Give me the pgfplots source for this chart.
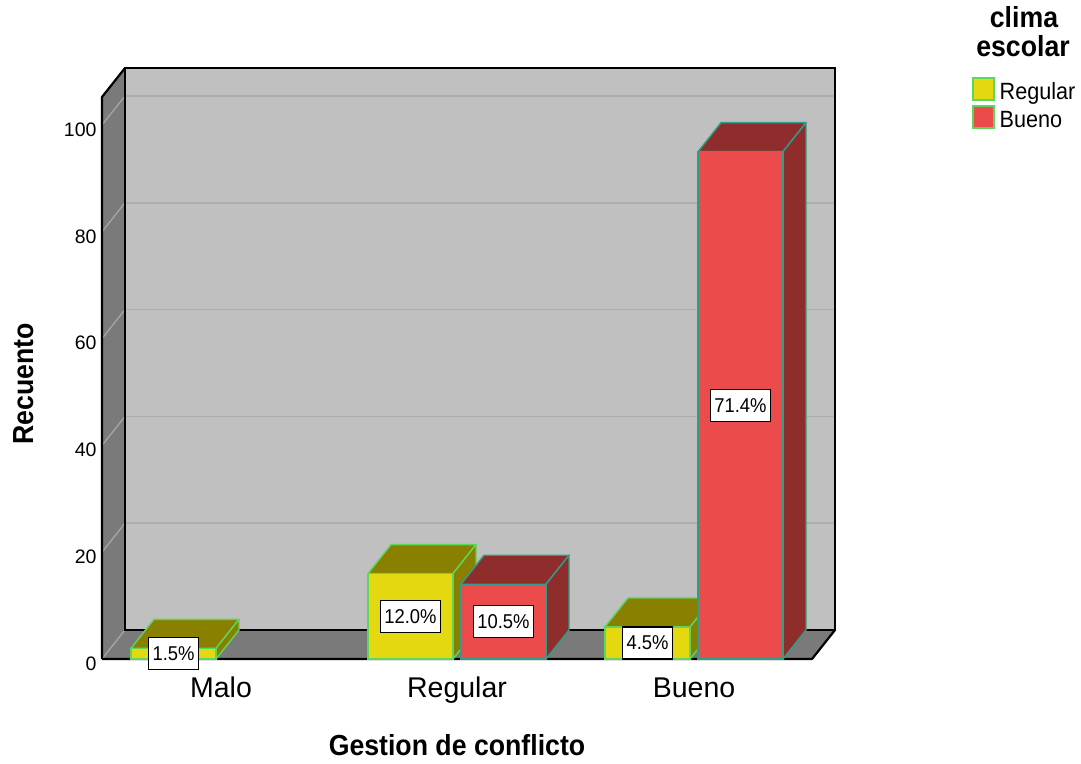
\documentclass[border=0pt]{standalone}
\usepackage{pgfplots}
\pgfplotsset{compat=1.18}
\usepackage{fontspec}
\setmainfont{Liberation Sans}
\newfontfamily\nf{Liberation Sans}[FakeStretch=0.92]

\definecolor{wallback}{HTML}{C0C0C0}
\definecolor{wallside}{HTML}{7A7A7A}
\definecolor{gridback}{HTML}{AEAEAE}
\definecolor{gridside}{HTML}{A6A6A6}
\definecolor{yfront}{HTML}{E4D810}
\definecolor{ydark}{HTML}{8A8000}
\definecolor{yedge}{HTML}{5CD65C}
\definecolor{rfront}{HTML}{EC4B4B}
\definecolor{rdark}{HTML}{8F2D2D}
\definecolor{redge}{HTML}{2F9E88}

\newcommand\dX{23}
\newcommand\dY{5.43}

\tikzset{lbl/.style={draw=black, line width=1.5pt, fill=white,
  font=\nf\fontsize{20}{22}\selectfont, inner xsep=4pt, inner ysep=0pt,
  text height=14.5pt, text depth=0.5pt, minimum height=32pt}}

% #1 left x of front face, #2 count, #3 front colour, #4 dark colour, #5 edge colour, #6 label
\newcommand\barcube[6]{%
 \pgfmathsetmacro\xa{#1}%
 \pgfmathsetmacro\xb{#1+85}%
 \pgfmathsetmacro\xc{#1+\dX}%
 \pgfmathsetmacro\xd{#1+85+\dX}%
 \pgfmathsetmacro\vt{#2+\dY}%
 \pgfmathsetmacro\xm{#1+42.5}%
 \pgfmathsetmacro\vm{#2/2}%
 \edef\doit{%
  \noexpand\addplot[forget plot,fill=#4,draw=#5,line width=1.4pt,line join=round] coordinates {(\xa,#2) (\xc,\vt) (\xd,\vt) (\xb,#2)} -- cycle;
  \noexpand\addplot[forget plot,fill=#4,draw=#5,line width=1.4pt,line join=round] coordinates {(\xb,0) (\xd,\dY) (\xd,\vt) (\xb,#2)} -- cycle;
  \noexpand\addplot[forget plot,fill=#3,draw=#5,line width=1.4pt] coordinates {(\xa,0) (\xb,0) (\xb,#2) (\xa,#2)} -- cycle;
  \noexpand\node[lbl] at (axis cs:\xm,\vm) {#6};
 }\doit}

\begin{document}
\begin{tikzpicture}
\path[use as bounding box] (0,0) rectangle (1081pt,763pt);
\begin{axis}[
 at={(102pt,104pt)}, anchor=south west,
 x=1pt, y=5.34pt, xmin=102, xmax=835, ymin=0, ymax=110.67,
 axis x line*=bottom, axis y line*=left,
 axis line style={draw=none},
 clip=false,
 major tick length=0pt,
 ytick={0,20,40,60,80,100},
 xtick={221,457,694}, xticklabels={Malo,Regular,Bueno},
 /pgf/number format/assume math mode=true,
 yticklabel style={font=\fontsize{19.5}{21}\selectfont, anchor=east, xshift=-2pt, yshift=-4.5pt},
 xticklabel style={font=\fontsize{28.5}{30}\selectfont, anchor=base, yshift=-38pt},
 xlabel={Gestion de conflicto}, ylabel={Recuento},
 xlabel style={font=\nf\bfseries\fontsize{29}{31}\selectfont, at={(axis description cs:0.4843,-0.1641)}, anchor=base},
 ylabel style={font=\nf\bfseries\fontsize{29}{31}\selectfont, at={(axis description cs:-0.0941,0.4653)}, anchor=base},
 legend style={at={(axis description cs:1.1869,0.9844)}, anchor=north west, draw=none, fill=none,
   inner sep=0pt, font=\nf\fontsize{23.5}{25}\selectfont, row sep=0.3pt,
   nodes={inner sep=1pt, text height=17pt, text depth=5pt},
   /tikz/every odd column/.append style={column sep=4pt}},
 legend cell align=left,
 legend image code/.code={\draw[#1, line width=1.5pt] (0pt,-7pt) rectangle (21pt,15pt);},
]
\addlegendimage{fill=yfront, draw=yedge}
\addlegendentry{Regular}
\addlegendimage{fill=rfront, draw=yedge}
\addlegendentry{Bueno}

% walls
\addplot[forget plot, fill=wallback, draw=none] coordinates {(125,5.43) (835,5.43) (835,110.67) (125,110.67)} -- cycle;
\addplot[forget plot, fill=wallside, draw=none] coordinates {(102,0) (125,5.43) (125,110.67) (102,105.24)} -- cycle;
\addplot[forget plot, fill=wallside, draw=none] coordinates {(102,0) (812,0) (835,5.43) (125,5.43)} -- cycle;
% grid lines on back wall
\addplot[forget plot, gridback, line width=1.5pt] coordinates {(125,25.43) (835,25.43)};
\addplot[forget plot, gridback, line width=1.5pt] coordinates {(125,45.43) (835,45.43)};
\addplot[forget plot, gridback, line width=1.5pt] coordinates {(125,65.43) (835,65.43)};
\addplot[forget plot, gridback, line width=1.5pt] coordinates {(125,85.43) (835,85.43)};
\addplot[forget plot, gridback, line width=1.5pt] coordinates {(125,105.43) (835,105.43)};
% grid lines on side wall
\addplot[forget plot, gridside, line width=1.3pt] coordinates {(102,0) (125,5.43)};
\addplot[forget plot, gridside, line width=1.3pt] coordinates {(102,20) (125,25.43)};
\addplot[forget plot, gridside, line width=1.3pt] coordinates {(102,40) (125,45.43)};
\addplot[forget plot, gridside, line width=1.3pt] coordinates {(102,60) (125,65.43)};
\addplot[forget plot, gridside, line width=1.3pt] coordinates {(102,80) (125,85.43)};
\addplot[forget plot, gridside, line width=1.3pt] coordinates {(102,100) (125,105.43)};
% wall outlines
\addplot[forget plot, black, line width=2pt] coordinates {(125,5.43) (835,5.43) (835,110.67) (125,110.67)} -- cycle;
\addplot[forget plot, black, line width=2.2pt, line join=round] coordinates {(102,0) (102,105.24) (125,110.67)};
\addplot[forget plot, black, line width=2.2pt, line join=round] coordinates {(102,0) (812,0) (835,5.43)};

% bars: counts (N = 133)
\barcube{131}{2}{yfront}{ydark}{yedge}{1.5\%}
\barcube{368}{16}{yfront}{ydark}{yedge}{12.0\%}
\barcube{461}{14}{rfront}{rdark}{redge}{10.5\%}
\barcube{605}{6}{yfront}{ydark}{yedge}{4.5\%}
\barcube{698}{95}{rfront}{rdark}{redge}{71.4\%}
\end{axis}
\node[font=\nf\bfseries\fontsize{29}{31}\selectfont, anchor=base, inner sep=0pt] at (1024pt,735pt) {clima};
\node[font=\nf\bfseries\fontsize{29}{31}\selectfont, anchor=base, inner sep=0pt] at (1023pt,706pt) {escolar};
\end{tikzpicture}
\end{document}
